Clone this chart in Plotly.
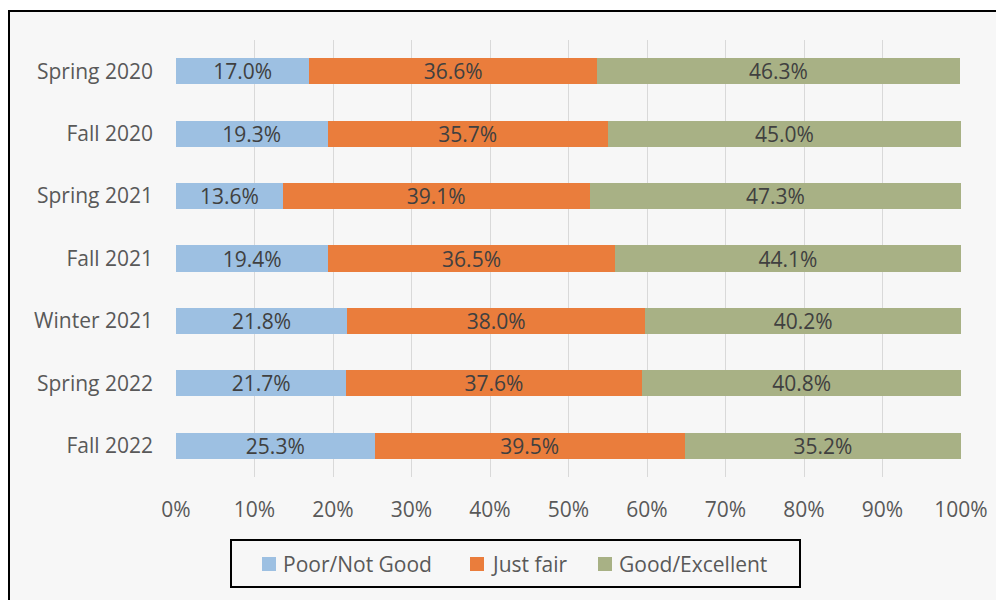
import plotly.graph_objects as go

categories = ["Spring 2020", "Fall 2020", "Spring 2021", "Fall 2021",
              "Winter 2021", "Spring 2022", "Fall 2022"]
poor = [17.0, 19.3, 13.6, 19.4, 21.8, 21.7, 25.3]
fair = [36.6, 35.7, 39.1, 36.5, 38.0, 37.6, 39.5]
good = [46.3, 45.0, 47.3, 44.1, 40.2, 40.8, 35.2]
series_names = ["Poor/Not Good", "Just fair", "Good/Excellent"]
colors = ["#9dc0e2", "#ea7d3c", "#a8b185"]
tick_vals = [0, 10, 20, 30, 40, 50, 60, 70, 80, 90, 100]
tick_text = [f"{v}%" for v in tick_vals]

FONT = "'Open Sans', Lato, sans-serif"
FS = 21

# page is offset by the 8px body margin; work in page pixels, convert
OFF = 8
W, H = 1004 - OFF, 600 - OFF
L, R, T, B = 176 - OFF, 961 - OFF, 40 - OFF, 477 - OFF
pw, ph = R - L, B - T

def px_x(p):
    return (p - OFF - L) / pw

def px_y(p):
    return (B - (p - OFF)) / ph

fig = go.Figure()
for name, vals, col in zip(series_names, [poor, fair, good], colors):
    fig.add_trace(go.Bar(
        y=categories, x=vals, name=name, orientation="h",
        marker=dict(color=col, line=dict(width=0)),
        text=[f"{v:.1f}%" for v in vals], textposition="inside",
        insidetextanchor="middle",
        textfont=dict(color="#404040", size=FS, family=FONT),
        width=0.42, showlegend=False,
    ))

fig.update_layout(
    width=W, height=H,
    margin=dict(l=L, r=W - R, t=T, b=H - B, pad=0),
    barmode="stack",
    paper_bgcolor="#ffffff", plot_bgcolor="rgba(0,0,0,0)",
    font=dict(family=FONT, color="#595959", size=FS),
    uniformtext=dict(minsize=FS, mode="show"),
    xaxis=dict(range=[0, 100], tickvals=tick_vals, ticktext=tick_text,
               showgrid=True, gridcolor="#d9d9d9", gridwidth=1,
               zeroline=False, showline=False, ticks="",
               tickfont=dict(size=FS, color="#595959"), ticklabelstandoff=18),
    yaxis=dict(autorange=False, range=[6.5, -0.5], showgrid=False,
               zeroline=False, showline=False, ticks="",
               tickfont=dict(size=FS, color="#595959"), ticklabelstandoff=22),
    showlegend=False,
)

# chart area background and border
fig.add_shape(type="rect", xref="paper", yref="paper",
              x0=px_x(9), x1=px_x(1030), y0=px_y(11), y1=px_y(630),
              line=dict(color="#000000", width=2), fillcolor="#f7f7f7",
              layer="below")

# manual legend
fig.add_shape(type="rect", xref="paper", yref="paper",
              x0=px_x(231), x1=px_x(800), y0=px_y(540), y1=px_y(587),
              line=dict(color="#000000", width=2), fillcolor="#f7f7f7")
sq_x = [262, 470, 598]
ly = 564
for name, col, sx in zip(series_names, colors, sq_x):
    fig.add_shape(type="rect", xref="paper", yref="paper",
                  x0=px_x(sx), x1=px_x(sx + 14), y0=px_y(ly - 7), y1=px_y(ly + 7),
                  line=dict(width=0), fillcolor=col)
    fig.add_annotation(xref="paper", yref="paper", x=px_x(sx + 19), y=px_y(ly),
                       text=name, showarrow=False, xanchor="left", yanchor="middle",
                       font=dict(size=FS, color="#595959", family=FONT))

fig.write_html("out.html")
